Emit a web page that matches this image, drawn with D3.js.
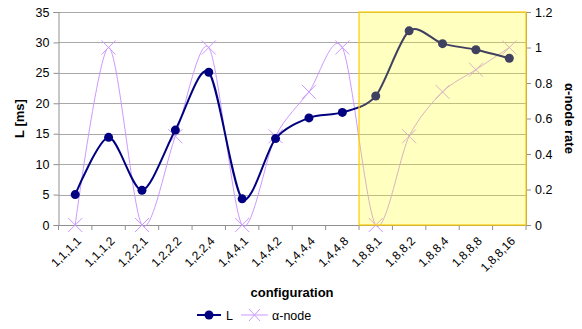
<!DOCTYPE html>
<html><head><meta charset="utf-8">
<script src="https://cdn.jsdelivr.net/npm/d3@7/dist/d3.min.js"></script>
<style>body{margin:0;background:#fff}svg{display:block;font-family:"Liberation Sans",Arial,sans-serif}</style>
</head><body><svg id="c" width="582" height="329"></svg>
<script>
const categories = ["1,1,1,1","1,1,1,2","1,2,2,1","1,2,2,2","1,2,2,4","1,4,4,1","1,4,4,2","1,4,4,4","1,4,4,8","1,8,8,1","1,8,8,2","1,8,8,4","1,8,8,8","1,8,8,16"];
const latency = [5.0,14.4,5.7,15.6,25.1,4.3,14.2,17.6,18.5,21.2,31.9,29.8,28.8,27.4];
const alphaRate = [0,1,0,0.5,1,0,0.5,0.75,1,0,0.5,0.75,0.875,1];
const leftTicks = [0,5,10,15,20,25,30,35];
const rightTicks = [0,0.2,0.4,0.6,0.8,1,1.2];
const highlightFrom = "1,8,8,1";

const svg = d3.select("#c");
const m = {l:58.5, r:526, t:12, b:225};
const x = d3.scaleBand().domain(categories).range([m.l, m.r]);
const yL = d3.scaleLinear().domain([0,35]).range([m.b, m.t]);
const yR = d3.scaleLinear().domain([0,1.2]).range([m.b, m.t]);
const cx = d => x(d) + x.bandwidth()/2;

// gridlines
svg.append("g").selectAll("line").data(leftTicks.filter(d=>d>0)).join("line")
  .attr("x1", m.l).attr("x2", m.r).attr("y1", d=>Math.round(yL(d))+0.5).attr("y2", d=>Math.round(yL(d))+0.5)
  .attr("stroke", "#a8a8a8").attr("stroke-width", 1);

// axes
const axL = svg.append("g").attr("transform", `translate(${m.l},0)`)
  .call(d3.axisLeft(yL).tickValues(leftTicks).tickSize(5).tickPadding(4).tickFormat(d3.format("d")));
const axR = svg.append("g").attr("transform", `translate(${m.r},0)`)
  .call(d3.axisRight(yR).tickValues(rightTicks).tickSize(5).tickPadding(4).tickFormat(d => d===0||d===1 ? d3.format("d")(d) : d3.format(".1f")(d)));
const axB = svg.append("g").attr("transform", `translate(0,${m.b})`)
  .call(d3.axisBottom(x).tickSize(0).tickFormat(d=>d));
[axL, axR, axB].forEach(a => {
  a.select(".domain").attr("stroke", "#909090");
  a.selectAll(".tick line").attr("stroke", "#909090");
  a.selectAll("text").attr("font-size", 12.5).attr("fill", "#000").attr("font-family", '"Liberation Sans",Arial,sans-serif');
});
axB.select(".domain").attr("d", `M${m.l},0.5H${m.r}`);
// bottom ticks at band edges
const edges = categories.map(c => x(c)).concat([m.r]);
axB.append("g").selectAll("line").data(edges).join("line")
  .attr("x1", d=>d).attr("x2", d=>d).attr("y1", 0).attr("y2", 5).attr("stroke", "#909090");
axB.selectAll(".tick text")
  .attr("font-size", 12)
  .attr("text-anchor", "end")
  .attr("transform", "translate(-2,8) rotate(-45)")
  .attr("dy", "0.7em").attr("y", 4).attr("x", 0);

// lines
const curve = d3.curveCardinal.tension(0.15);
const lineA = d3.line().x((d,i)=>cx(categories[i])).y(d=>yR(d)).curve(curve);
const lineL = d3.line().x((d,i)=>cx(categories[i])).y(d=>yL(d)).curve(curve);

svg.append("path").attr("d", lineA(alphaRate)).attr("fill","none").attr("stroke","#cc99ff").attr("stroke-width",1);
svg.append("g").selectAll("path").data(alphaRate).join("path")
  .attr("d", (d,i)=>{const px=cx(categories[i]), py=yR(d), s=7; return `M${px-s},${py-s}L${px+s},${py+s}M${px-s},${py+s}L${px+s},${py-s}`;})
  .attr("stroke","#cc99ff").attr("stroke-width",1).attr("fill","none");

svg.append("path").attr("d", lineL(latency)).attr("fill","none").attr("stroke","#000080").attr("stroke-width",2);
svg.append("g").selectAll("circle").data(latency).join("circle")
  .attr("cx",(d,i)=>cx(categories[i])).attr("cy",d=>yL(d)).attr("r",4.5).attr("fill","#000080");

// highlight
const hx = x(highlightFrom);
svg.append("rect").attr("x", hx).attr("y", m.t).attr("width", m.r - hx).attr("height", m.b - m.t)
  .attr("fill", "#ffff00").attr("fill-opacity", 0.25).attr("stroke", "#ffcc00").attr("stroke-width", 1.2);

// titles
svg.append("text").attr("transform", `translate(24,${(m.t+m.b)/2}) rotate(-90)`).attr("text-anchor","middle")
  .attr("font-size",13).attr("font-weight","bold").text("L [ms]");
svg.append("text").attr("transform", `translate(565,${(m.t+m.b)/2}) rotate(90)`).attr("text-anchor","middle")
  .attr("font-size",13).attr("font-weight","bold").text("α-node rate");
svg.append("text").attr("x", 292).attr("y", 297).attr("text-anchor","middle")
  .attr("font-size",13).attr("font-weight","bold").text("configuration");

// legend
const lg = svg.append("g").attr("transform","translate(0,315)");
lg.append("line").attr("x1",197).attr("x2",221).attr("y1",0).attr("y2",0).attr("stroke","#000080").attr("stroke-width",2);
lg.append("circle").attr("cx",209).attr("cy",0).attr("r",4.5).attr("fill","#000080");
lg.append("text").attr("x",226).attr("y",5).attr("font-size",12.5).text("L");
lg.append("line").attr("x1",241).attr("x2",268).attr("y1",0).attr("y2",0).attr("stroke","#cc99ff").attr("stroke-width",1);
lg.append("path").attr("d","M249,-6L260,6M249,6L260,-6").attr("stroke","#cc99ff").attr("fill","none");
lg.append("text").attr("x",272).attr("y",5).attr("font-size",12.5).text("α-node");
</script></body></html>
